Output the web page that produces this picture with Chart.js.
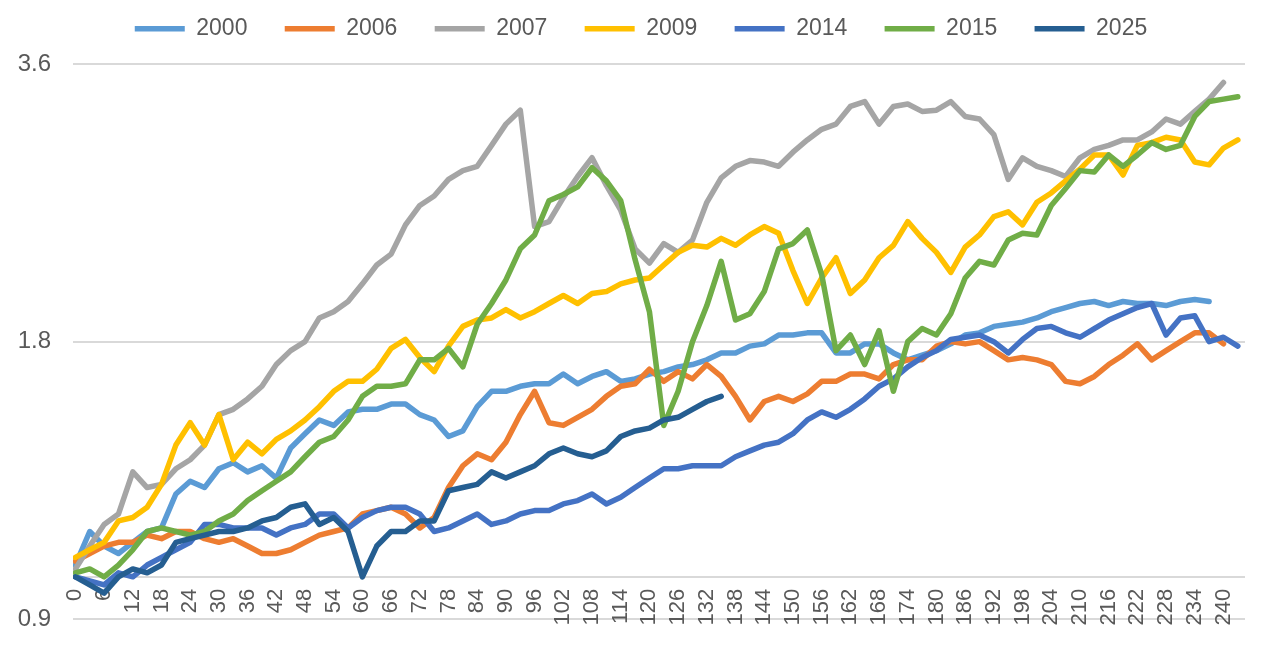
<!DOCTYPE html>
<html>
<head>
<meta charset="utf-8">
<script src="https://cdn.jsdelivr.net/npm/chart.js@4.4.1/dist/chart.umd.min.js"></script>
<style>
  html, body { margin: 0; padding: 0; background: #fff; }
  #wrap { width: 1266px; height: 645px; position: relative; }
</style>
</head>
<body>
<div id="wrap"><canvas id="chart"></canvas></div>
<script>
// months since start (sampled every 3 months)
const months = [
    0,   3,   6,   9,  12,  15,  18,  21,  24,  27,
   30,  33,  36,  39,  42,  45,  48,  51,  54,  57,
   60,  63,  66,  69,  72,  75,  78,  81,  84,  87,
   90,  93,  96,  99, 102, 105, 108, 111, 114, 117,
  120, 123, 126, 129, 132, 135, 138, 141, 144, 147,
  150, 153, 156, 159, 162, 165, 168, 171, 174, 177,
  180, 183, 186, 189, 192, 195, 198, 201, 204, 207,
  210, 213, 216, 219, 222, 225, 228, 231, 234, 237,
  240, 243
];

const xTicks = [0, 6, 12, 18, 24, 30, 36, 42, 48, 54, 60, 66, 72, 78, 84, 90, 96, 102, 108, 114,
  120, 126, 132, 138, 144, 150, 156, 162, 168, 174, 180, 186, 192, 198, 204, 210, 216, 222, 228, 234, 240];
const yTicks = [0.9, 1.8, 3.6];
const axisCross = 1.0;

const s2000 = [
  1.03, 1.12, 1.08, 1.06, 1.09, 1.12, 1.13, 1.23, 1.27, 1.25,
  1.31, 1.33, 1.30, 1.32, 1.28, 1.38, 1.43, 1.48, 1.46, 1.51,
  1.52, 1.52, 1.54, 1.54, 1.50, 1.48, 1.42, 1.44, 1.53, 1.59,
  1.59, 1.61, 1.62, 1.62, 1.66, 1.62, 1.65, 1.67, 1.63, 1.64,
  1.66, 1.67, 1.69, 1.70, 1.72, 1.75, 1.75, 1.78, 1.79, 1.83,
  1.83, 1.84, 1.84, 1.75, 1.75, 1.79, 1.79, 1.75, 1.72, 1.74,
  1.76, 1.79, 1.83, 1.84, 1.87, 1.88, 1.89, 1.91, 1.94, 1.96,
  1.98, 1.99, 1.97, 1.99, 1.98, 1.98, 1.97, 1.99, 2.00, 1.99
];
const s2006 = [
  1.04, 1.06, 1.08, 1.09, 1.09, 1.11, 1.10, 1.12, 1.12, 1.10,
  1.09, 1.10, 1.08, 1.06, 1.06, 1.07, 1.09, 1.11, 1.12, 1.13,
  1.17, 1.18, 1.19, 1.17, 1.13, 1.16, 1.25, 1.32, 1.36, 1.34,
  1.40, 1.50, 1.59, 1.47, 1.46, 1.49, 1.52, 1.57, 1.61, 1.62,
  1.68, 1.63, 1.67, 1.64, 1.70, 1.65, 1.57, 1.48, 1.55, 1.57,
  1.55, 1.58, 1.63, 1.63, 1.66, 1.66, 1.64, 1.70, 1.72, 1.72,
  1.78, 1.80, 1.79, 1.80, 1.76, 1.72, 1.73, 1.72, 1.70, 1.63,
  1.62, 1.65, 1.70, 1.74, 1.79, 1.72, 1.76, 1.80, 1.84, 1.84,
  1.79
];
const s2007 = [
  1.02, 1.08, 1.14, 1.17, 1.30, 1.25, 1.26, 1.31, 1.34, 1.39,
  1.50, 1.52, 1.56, 1.61, 1.70, 1.76, 1.80, 1.91, 1.94, 1.99,
  2.08, 2.18, 2.24, 2.41, 2.53, 2.59, 2.70, 2.76, 2.79, 2.94,
  3.10, 3.21, 2.40, 2.43, 2.58, 2.72, 2.85, 2.66, 2.50, 2.27,
  2.19, 2.30, 2.25, 2.32, 2.55, 2.71, 2.79, 2.83, 2.82, 2.79,
  2.89, 2.98, 3.06, 3.10, 3.24, 3.28, 3.10, 3.24, 3.26, 3.20,
  3.21, 3.28, 3.16, 3.14, 3.02, 2.70, 2.85, 2.79, 2.76, 2.72,
  2.85, 2.91, 2.94, 2.98, 2.98, 3.04, 3.14, 3.10, 3.20, 3.30,
  3.44
];
const s2009 = [
  1.05, 1.07, 1.09, 1.15, 1.16, 1.19, 1.26, 1.39, 1.47, 1.39,
  1.50, 1.34, 1.40, 1.36, 1.41, 1.44, 1.48, 1.53, 1.59, 1.63,
  1.63, 1.68, 1.77, 1.81, 1.73, 1.67, 1.78, 1.87, 1.90, 1.91,
  1.95, 1.91, 1.94, 1.98, 2.02, 1.98, 2.03, 2.04, 2.08, 2.10,
  2.11, 2.18, 2.25, 2.29, 2.28, 2.33, 2.29, 2.35, 2.40, 2.36,
  2.15, 1.98, 2.11, 2.22, 2.03, 2.10, 2.22, 2.29, 2.43, 2.33,
  2.25, 2.14, 2.28, 2.35, 2.46, 2.49, 2.41, 2.55, 2.61, 2.69,
  2.77, 2.87, 2.87, 2.73, 2.94, 2.96, 3.00, 2.98, 2.82, 2.80,
  2.92, 2.98
];
const s2014 = [
  1.00, 0.99, 0.98, 1.01, 1.00, 1.03, 1.05, 1.07, 1.09, 1.14,
  1.14, 1.13, 1.13, 1.13, 1.11, 1.13, 1.14, 1.17, 1.17, 1.13,
  1.16, 1.18, 1.19, 1.19, 1.17, 1.12, 1.13, 1.15, 1.17, 1.14,
  1.15, 1.17, 1.18, 1.18, 1.20, 1.21, 1.23, 1.20, 1.22, 1.25,
  1.28, 1.31, 1.31, 1.32, 1.32, 1.32, 1.35, 1.37, 1.39, 1.40,
  1.43, 1.48, 1.51, 1.49, 1.52, 1.56, 1.61, 1.64, 1.69, 1.73,
  1.76, 1.81, 1.82, 1.83, 1.80, 1.75, 1.81, 1.86, 1.87, 1.84,
  1.82, 1.86, 1.90, 1.93, 1.96, 1.98, 1.83, 1.91, 1.92, 1.80,
  1.82, 1.78
];
const s2015 = [
  1.01, 1.02, 1.00, 1.03, 1.07, 1.12, 1.13, 1.12, 1.11, 1.12,
  1.15, 1.17, 1.21, 1.24, 1.27, 1.30, 1.35, 1.40, 1.42, 1.48,
  1.57, 1.61, 1.61, 1.62, 1.72, 1.72, 1.77, 1.69, 1.88, 1.98,
  2.10, 2.27, 2.35, 2.56, 2.60, 2.65, 2.78, 2.69, 2.56, 2.21,
  1.94, 1.46, 1.59, 1.80, 1.97, 2.20, 1.90, 1.93, 2.04, 2.27,
  2.30, 2.38, 2.13, 1.76, 1.83, 1.70, 1.85, 1.59, 1.80, 1.86,
  1.83, 1.93, 2.11, 2.20, 2.18, 2.32, 2.36, 2.35, 2.53, 2.64,
  2.76, 2.75, 2.87, 2.79, 2.87, 2.96, 2.91, 2.94, 3.16, 3.28,
  3.30, 3.32
];
const s2025 = [
  1.00, 0.98, 0.96, 1.00, 1.02, 1.01, 1.03, 1.09, 1.10, 1.11,
  1.12, 1.12, 1.13, 1.15, 1.16, 1.19, 1.20, 1.14, 1.16, 1.12,
  1.00, 1.08, 1.12, 1.12, 1.15, 1.15, 1.24, 1.25, 1.26, 1.30,
  1.28, 1.30, 1.32, 1.36, 1.38, 1.36, 1.35, 1.37, 1.42, 1.44,
  1.45, 1.48, 1.49, 1.52, 1.55, 1.57
];

const seriesNames  = ['2000', '2006', '2007', '2009', '2014', '2015', '2025'];
const seriesData   = [s2000, s2006, s2007, s2009, s2014, s2015, s2025];
const seriesColors = ['#5B9BD5', '#ED7D31', '#A5A5A5', '#FFC000', '#4472C4', '#70AD47', '#255E91'];

const fontFamily = "'Liberation Sans', Arial, sans-serif";
const textColor  = '#595959';
const gridColor  = '#D9D9D9';

const datasets = seriesNames.map((name, i) => ({
    label: name,
    data: seriesData[i].map((v, j) => ({ x: months[j], y: v })),
    xAxisID: 'x',
    yAxisID: 'y',
    borderColor: seriesColors[i],
    backgroundColor: seriesColors[i],
    borderWidth: 5.5,
    borderCapStyle: 'round',
    borderJoinStyle: 'round',
    pointRadius: 0,
    tension: 0,
    fill: false,
    order: seriesNames.length - 1 - i   // Excel draws the last series on top
}));

// empty axes used only as spacers
const spacer = size => ({
    type: 'linear',
    afterFit: s => { if (s.isHorizontal()) s.height = size; else s.width = size; },
    ticks: { display: false },
    grid: { display: false, drawTicks: false },
    border: { display: false }
});

new Chart(document.getElementById('chart').getContext('2d'), {
    type: 'line',
    data: { datasets },
    options: {
        responsive: true,
        maintainAspectRatio: false,
        animation: false,
        layout: { padding: { top: -20, right: 0, bottom: 26, left: 16 } },
        plugins: {
            tooltip: { enabled: false },
            legend: {
                position: 'top',
                labels: {
                    usePointStyle: true,
                    pointStyle: 'line',
                    pointStyleWidth: 50,
                    padding: 37.3,
                    color: textColor,
                    font: { family: fontFamily, size: 23 },
                    sort: (a, b) => a.datasetIndex - b.datasetIndex
                }
            }
        },
        scales: {
            x: {
                type: 'linear',
                position: { y: axisCross },
                min: -0.5,
                max: 244.5,
                afterBuildTicks: s => { s.ticks = xTicks.map(v => ({ value: v })); },
                afterFit: s => { s.height = 0; },
                grid: { display: false, drawTicks: false },
                border: { display: false },
                ticks: {
                    autoSkip: false,
                    minRotation: 90,
                    maxRotation: 90,
                    padding: 12,
                    color: textColor,
                    font: { family: fontFamily, size: 22 }
                }
            },
            y: {
                type: 'logarithmic',
                min: 0.9,
                max: 3.6,
                afterBuildTicks: s => { s.ticks = [...yTicks, axisCross].sort().map(v => ({ value: v })); },
                afterFit: s => { s.width = 57; s.paddingTop = 0; s.paddingBottom = 0; },
                grid: { color: gridColor, lineWidth: 2, drawTicks: false },
                border: { display: false },
                ticks: {
                    padding: 22,
                    color: textColor,
                    font: { family: fontFamily, size: 24 },
                    callback: v => yTicks.includes(v) ? v.toFixed(1) : ''
                }
            },
            gapTop:   { ...spacer(14), position: 'top' },
            gapRight: { ...spacer(21), position: 'right' }
        }
    }
});
</script>
</body>
</html>
